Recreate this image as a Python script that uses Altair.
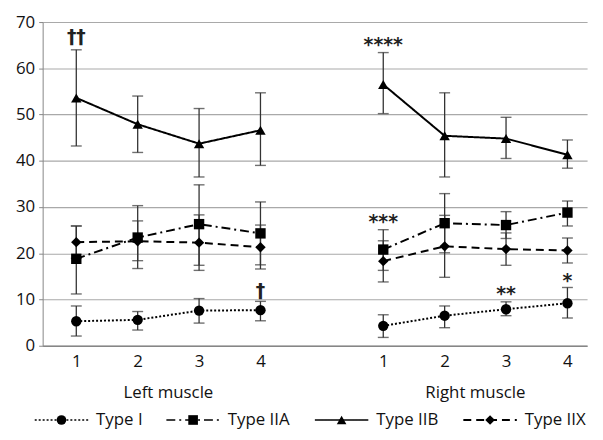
import altair as alt
import pandas as pd

# ---- data ----
positions = [1, 2, 3, 4, 6, 7, 8, 9]          # 5 is the gap between muscles
series_names = ["Type I", "Type IIA", "Type IIB", "Type IIX"]

typeI_mean = [5.3, 5.6, 7.6, 7.7, 4.3, 6.5, 7.9, 9.2]
typeI_lo   = [2.1, 3.4, 4.9, 5.4, 1.8, 3.9, 6.5, 6.0]
typeI_hi   = [8.6, 7.4, 10.2, 9.6, 6.7, 8.6, 9.5, 12.6]

typeIIA_mean = [18.8, 23.4, 26.3, 24.3, 20.8, 26.5, 26.1, 28.8]
typeIIA_lo   = [11.2, 16.7, 17.4, 17.5, 16.3, 20.1, 23.2, 25.9]
typeIIA_hi   = [25.9, 30.3, 34.8, 31.1, 25.1, 32.9, 29.0, 31.3]

typeIIB_mean = [53.6, 47.9, 43.7, 46.6, 56.5, 45.4, 44.8, 41.3]
typeIIB_lo   = [43.2, 41.8, 36.5, 39.0, 50.2, 36.5, 40.5, 38.4]
typeIIB_hi   = [64.0, 54.0, 51.3, 54.7, 63.4, 54.7, 49.4, 44.5]

typeIIX_mean = [22.4, 22.6, 22.3, 21.3, 18.3, 21.5, 20.9, 20.6]
typeIIX_lo   = [18.9, 18.4, 16.3, 16.6, 13.8, 14.8, 17.4, 17.9]
typeIIX_hi   = [25.9, 27.0, 28.3, 26.1, 22.7, 28.2, 24.4, 23.3]

ann_text = ["††", "†", "****", "***", "**", "*"]
ann_x    = [1, 4, 6, 6, 8, 9]
ann_y    = [66.8, 11.8, 65.1, 26.8, 11.1, 14.0]

group_labels = ["Left muscle", "Right muscle"]
group_x      = [2.5, 7.5]

# ---- tables ----
rows = []
for name, m, lo, hi in [
    ("Type I", typeI_mean, typeI_lo, typeI_hi),
    ("Type IIA", typeIIA_mean, typeIIA_lo, typeIIA_hi),
    ("Type IIB", typeIIB_mean, typeIIB_lo, typeIIB_hi),
    ("Type IIX", typeIIX_mean, typeIIX_lo, typeIIX_hi),
]:
    for i, p in enumerate(positions):
        rows.append({"series": name, "pos": p, "mean": m[i], "lo": lo[i], "hi": hi[i],
                     "side": "L" if p < 5 else "R"})
df = pd.DataFrame(rows)
ann_df = pd.DataFrame({"t": ann_text, "x": ann_x, "y": ann_y})
grp_df = pd.DataFrame({"t": group_labels, "x": group_x})

FONT = "Open Sans"
FS = 17
W, H = 550, 327

# legend layout derived from label lengths (line sample, gap, text, padding)
LINE_LEN, GAP, PAD, CHARW, LEFT = 54, 8, 20, 8.5, -8
leg_rows, cur = [], LEFT
for s in series_names:
    leg_rows.append({"series": s, "x0": cur, "x1": cur + LINE_LEN,
                     "xm": cur + LINE_LEN / 2, "xt": cur + LINE_LEN + GAP})
    cur += LINE_LEN + GAP + len(s) * CHARW + PAD
leg_df = pd.DataFrame(leg_rows)

shape_scale = alt.Scale(domain=series_names,
                        range=["circle", "square", "triangle-up", "diamond"])
dash_scale = alt.Scale(domain=series_names,
                       range=[[2, 2], [9, 4, 2, 4], [1, 0], [8, 5]])
width_scale = alt.Scale(domain=series_names, range=[2, 2, 2.5, 2.2])
size_scale = alt.Scale(domain=series_names, range=[110, 110, 260, 210])

xs = alt.Scale(domain=[0.452, 9.32], nice=False, zero=False)
ys = alt.Scale(domain=[0, 70], nice=False)

xax = alt.Axis(values=positions, labelExpr="datum.value > 5 ? datum.value - 5 : datum.value",
               ticks=False, grid=False, title=None, labelFontSize=FS, labelPadding=8,
               domainColor="#868686", domainWidth=1.3, labelColor="#111", labelFont=FONT)
yax = alt.Axis(values=list(range(0, 71, 10)), title=None, grid=True, gridColor="#a9a9a9",
               gridWidth=1.1, tickSize=4, tickColor="#868686", domainColor="#868686",
               labelFontSize=FS, labelPadding=4, labelColor="#111", labelFont=FONT)

base = alt.Chart(df)
X = lambda f: alt.X(f, scale=xs, axis=None)
Y = lambda f: alt.Y(f, scale=ys, axis=yax)

lines = base.mark_line(color="black").encode(
    x=alt.X("pos:Q", scale=xs, axis=xax),
    y=alt.Y("mean:Q", scale=ys, axis=yax),
    detail="side:N",
    strokeDash=alt.StrokeDash("series:N", scale=dash_scale, legend=None),
    strokeWidth=alt.StrokeWidth("series:N", scale=width_scale, legend=None),
)
err = base.mark_rule(color="#333", strokeWidth=1.3).encode(
    x=X("pos:Q"), y=Y("lo:Q"), y2="hi:Q")
cap_lo = base.mark_tick(color="#333", orient="horizontal", size=11, thickness=1.4).encode(
    x=X("pos:Q"), y=Y("lo:Q"))
cap_hi = base.mark_tick(color="#333", orient="horizontal", size=11, thickness=1.4).encode(
    x=X("pos:Q"), y=Y("hi:Q"))
pts = base.mark_point(filled=True, color="black", opacity=1).encode(
    x=X("pos:Q"), y=Y("mean:Q"),
    shape=alt.Shape("series:N", scale=shape_scale, legend=None),
    size=alt.Size("series:N", scale=size_scale, legend=None),
)
ann = alt.Chart(ann_df).mark_text(font="DejaVu Sans", fontSize=19, fontWeight="bold",
                                  color="#222", baseline="middle").encode(
    x=X("x:Q"), y=Y("y:Q"), text="t:N")
grp = alt.Chart(grp_df).mark_text(font=FONT, fontSize=FS, color="#111",
                                  baseline="middle").encode(
    x=X("x:Q"), y=alt.value(H + 48), text="t:N")

# ---- custom legend (line sample + marker + label), below the x axis ----
lx = alt.Scale(domain=[0, W], nice=False, zero=False)
LY = H + 75
leg_line = alt.Chart(leg_df).mark_rule(color="black").encode(
    x=alt.X("x0:Q", scale=lx, axis=None), x2="x1:Q", y=alt.value(LY),
    strokeDash=alt.StrokeDash("series:N", scale=dash_scale, legend=None),
    strokeWidth=alt.StrokeWidth("series:N", scale=alt.Scale(domain=series_names,
                                range=[1.6, 1.8, 2.2, 1.8]), legend=None))
leg_pt = alt.Chart(leg_df).mark_point(filled=True, color="black", opacity=1).encode(
    x=alt.X("xm:Q", scale=lx, axis=None), y=alt.value(LY),
    shape=alt.Shape("series:N", scale=shape_scale, legend=None),
    size=alt.Size("series:N", scale=alt.Scale(domain=series_names, range=[95, 95, 150, 120]),
                  legend=None))
leg_txt = alt.Chart(leg_df).mark_text(font=FONT, fontSize=FS, color="#111", align="left",
                                      baseline="middle").encode(
    x=alt.X("xt:Q", scale=lx, axis=None), y=alt.value(LY), text="series:N")

chart = alt.layer(err, cap_lo, cap_hi, lines, pts, ann, grp,
                  leg_line, leg_pt, leg_txt).resolve_scale(
    x="independent", strokeDash="independent", strokeWidth="independent",
    shape="independent", size="independent"
).properties(
    width=W, height=H, autosize="none",
    padding={"left": 35, "top": 12, "right": 8, "bottom": 92},
    background="white",
).configure_view(stroke=None, strokeWidth=0)

chart.save("out.html", embed_options={"renderer": "svg", "actions": False})
